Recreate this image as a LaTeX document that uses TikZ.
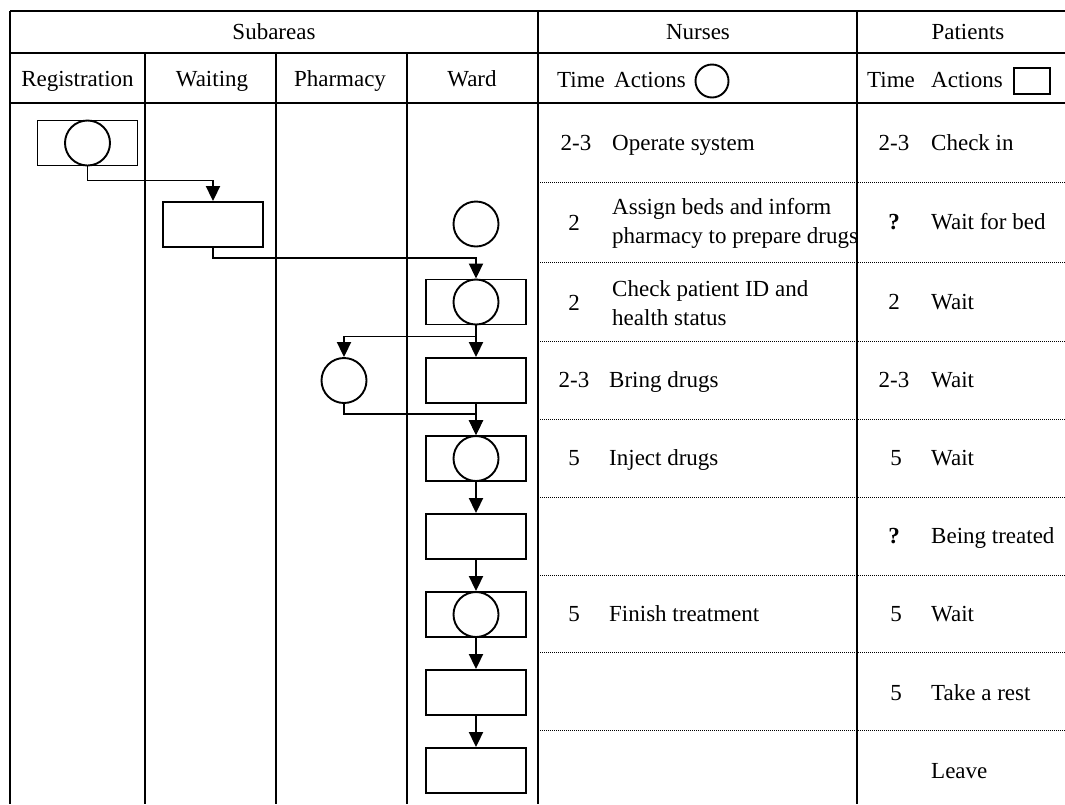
\documentclass[tikz,border=0pt]{standalone}
\usepackage{fontspec}
\setmainfont{Liberation Serif}
\usetikzlibrary{arrows.meta}

\tikzset{
  lane/.style={line width=1.9pt},
  sep/.style={line width=1pt, dash pattern=on 1pt off 1pt},
  flow/.style={line width=1.9pt, -{Triangle[length=15pt,width=14pt]}},
  pbox/.style={draw, line width=1.9pt, minimum width=100pt, minimum height=45pt, inner sep=0pt},
  nact/.style={draw, circle, line width=1.9pt, minimum size=45pt, inner sep=0pt},
  txt/.style={font=\fontsize{23}{29}\selectfont, inner sep=0pt, text height=15pt, text depth=0pt},
  txttwo/.style={font=\fontsize{23}{29}\selectfont, inner sep=0pt, align=left},
}

\begin{document}
\begin{tikzpicture}[x=1pt,y=-1pt]
    \useasboundingbox (0,0) rectangle (1065,804);

    % Table frame
    \draw[lane] (10,11) -- (1065,11);
    \draw[lane] (10,53) -- (1065,53);
    \draw[lane] (10,103) -- (1065,103);
    \draw[lane] (10,11) -- (10,804);
    \draw[lane] (538,11) -- (538,804);
    \draw[lane] (857,11) -- (857,804);
    \foreach \x in {145,276,407}
        \draw[lane] (\x,53) -- (\x,804);
    \foreach \y in {182,262,341,419,497,575,652,730}
        \draw[sep] (538,\y) -- (1065,\y);

    % Headers
    \node[txt] (subareas) at (274,32) {Subareas};
    \node[txt] (nurses) at (698,32) {Nurses};
    \node[txt] (patients) at (968,32) {Patients};
    \node[txt] (registration) at (77.5,79) {Registration};
    \node[txt] (waiting) at (212,79) {Waiting};
    \node[txt] (pharmacy) at (340,79) {Pharmacy};
    \node[txt] (ward) at (472,79) {Ward};
    \node[txt, anchor=west] (ntime) at (557,80) {Time};
    \node[txt, anchor=west] (nactions) at (614,80) {Actions};
    \node[nact, minimum size=33pt] (nkey) at (712,81) {};
    \node[txt, anchor=west] (ptime) at (867,80) {Time};
    \node[txt, anchor=west] (pactions) at (931,80) {Actions};
    \node[draw, line width=1.9pt, minimum width=36pt, minimum height=26pt, inner sep=0pt] (pkey) at (1032,81) {};

    % Process steps
    \node[pbox] (reg) at (87.5,143) {};
    \node[nact] (regc) at (reg) {};
    \node[pbox] (wait) at (213,224.5) {};
    \node[nact] (nc1) at (476,224) {};
    \node[pbox] (w1) at (476,302) {};
    \node[nact] (w1c) at (w1) {};
    \node[nact] (ph) at (344,380.5) {};
    \node[pbox] (w2) at (476,380.5) {};
    \node[pbox] (w3) at (476,458.5) {};
    \node[nact] (w3c) at (w3) {};
    \node[pbox] (w4) at (476,536.5) {};
    \node[pbox] (w5) at (476,614.5) {};
    \node[nact] (w5c) at (w5) {};
    \node[pbox] (w6) at (476,692.5) {};
    \node[pbox] (w7) at (476,770.5) {};

    % Flow
    \draw[flow] (reg.south) -- ++(0,14) -| (wait.north);
    \draw[flow] (wait.south) -- ++(0,10) -| (w1.north);
    \draw[flow] (w1.south) -- (w2.north);
    \draw[flow] (w1.south) -- ++(0,11) -| (ph.north);
    \draw[flow] (ph.south) -- ++(0,10) -| (w3.north);
    \draw[flow] (w2.south) -- (w3.north);
    \foreach \a/\b in {w3/w4,w4/w5,w5/w6,w6/w7}
        \draw[flow] (\a.south) -- (\b.north);

    % Nurses
    \node[txt] (n1t) at (576,143) {2-3};
    \node[txt, anchor=west] (n1a) at (612,143) {Operate system};
    \node[txt] (n2t) at (574,223) {2};
    \node[txttwo, anchor=west] (n2a) at (612,223) {Assign beds and inform\\pharmacy to prepare drugs};
    \node[txt] (n3t) at (574,303) {2};
    \node[txttwo, anchor=west] (n3a) at (612,303) {Check patient ID and\\health status};
    \node[txt] (n4t) at (574,380) {2-3};
    \node[txt, anchor=west] (n4a) at (609,380) {Bring drugs};
    \node[txt] (n5t) at (574,458) {5};
    \node[txt, anchor=west] (n5a) at (609,458) {Inject drugs};
    \node[txt] (n7t) at (574,614) {5};
    \node[txt, anchor=west] (n7a) at (609,614) {Finish treatment};

    % Patients
    \node[txt] (p1t) at (894,143) {2-3};
    \node[txt, anchor=west] (p1a) at (931,143) {Check in};
    \node[txt] (p2t) at (894,222) {\textbf{?}};
    \node[txt, anchor=west] (p2a) at (931,222) {Wait for bed};
    \node[txt] (p3t) at (894,302) {2};
    \node[txt, anchor=west] (p3a) at (931,302) {Wait};
    \node[txt] (p4t) at (894,380) {2-3};
    \node[txt, anchor=west] (p4a) at (931,380) {Wait};
    \node[txt] (p5t) at (896,458) {5};
    \node[txt, anchor=west] (p5a) at (931,458) {Wait};
    \node[txt] (p6t) at (894,536) {\textbf{?}};
    \node[txt, anchor=west] (p6a) at (931,536) {Being treated};
    \node[txt] (p7t) at (896,614) {5};
    \node[txt, anchor=west] (p7a) at (931,614) {Wait};
    \node[txt] (p8t) at (896,693) {5};
    \node[txt, anchor=west] (p8a) at (931,693) {Take a rest};
    \node[txt, anchor=west] (p9a) at (931,771) {Leave};
\end{tikzpicture}
\end{document}
